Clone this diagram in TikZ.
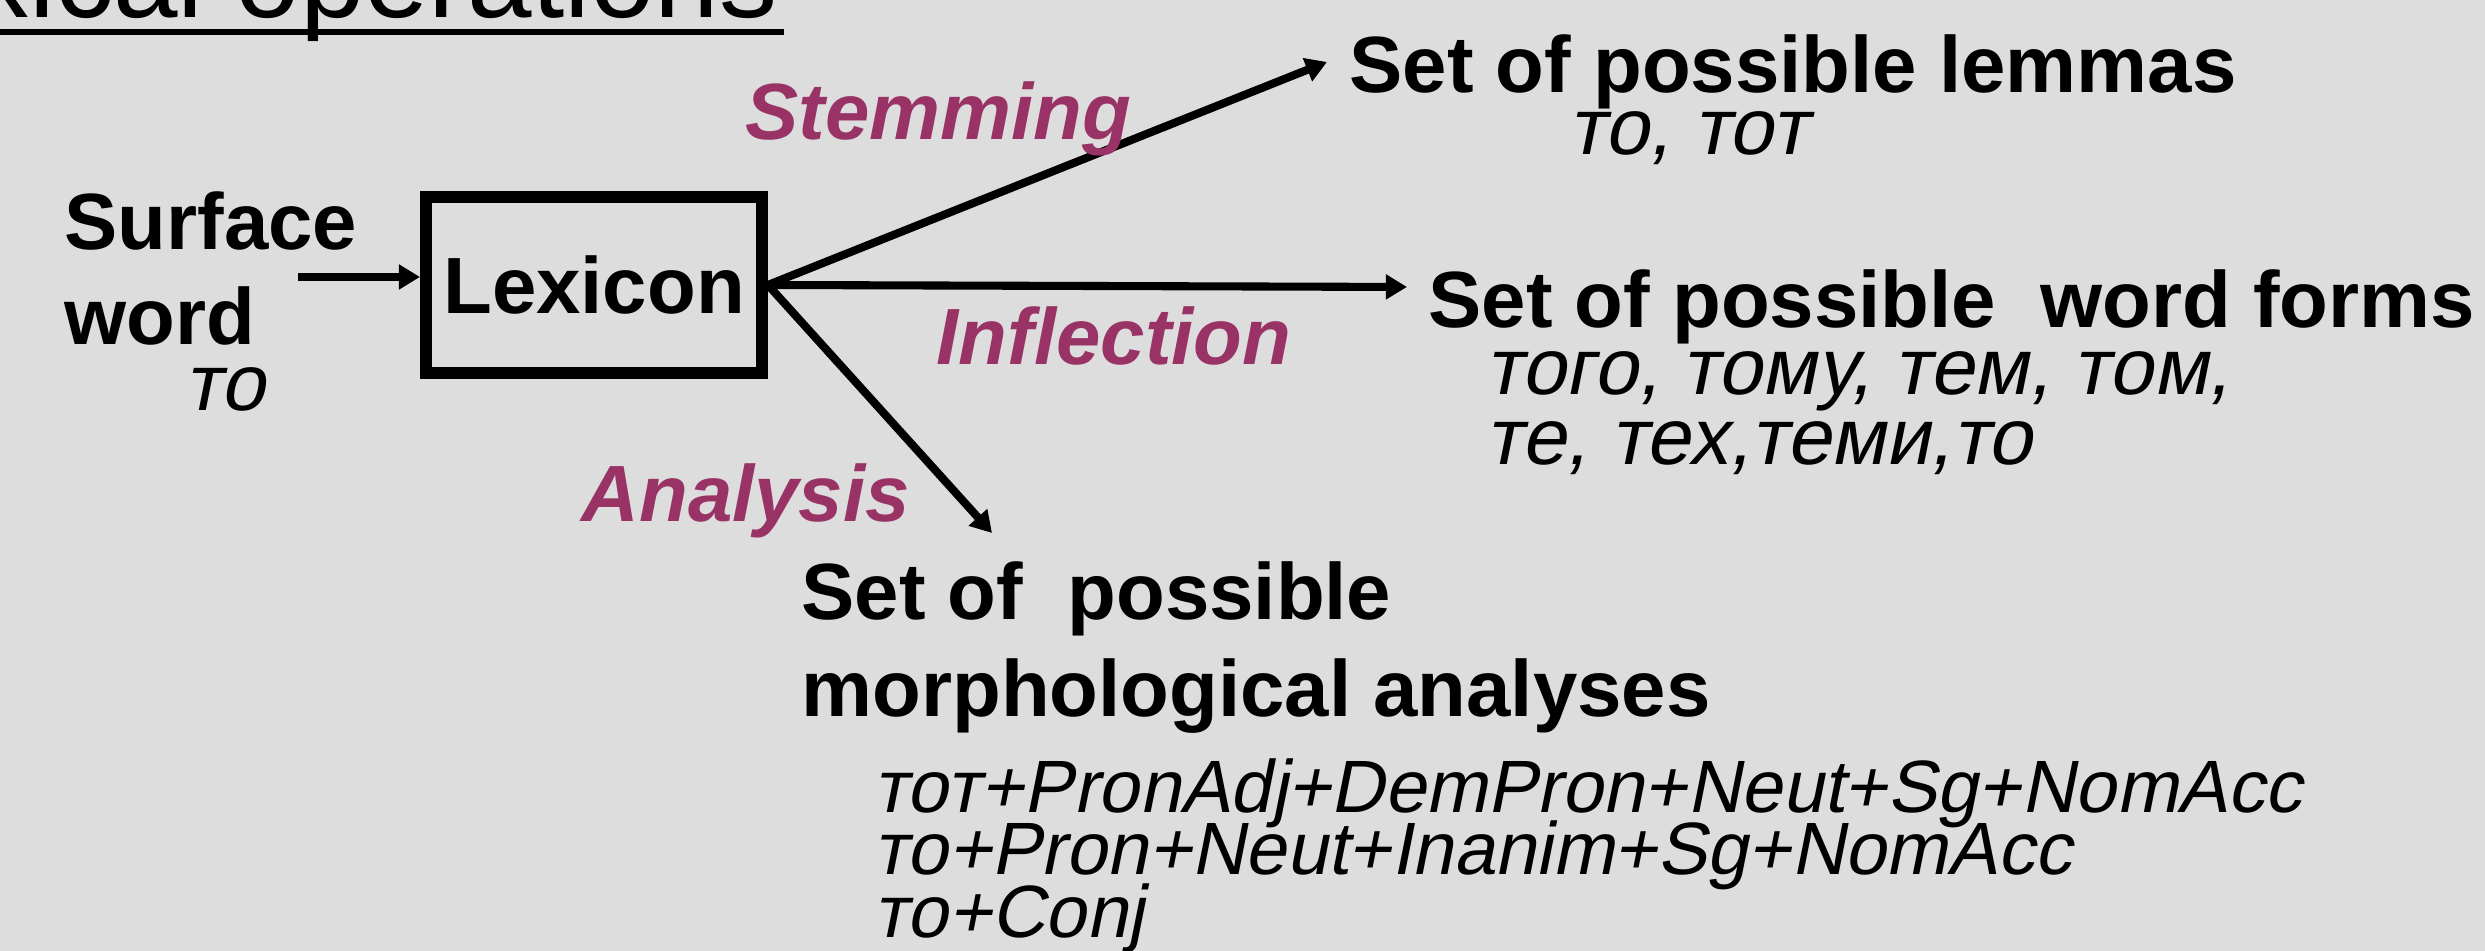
\documentclass[tikz,border=0pt]{standalone}
\usepackage{fontspec}
\setmainfont{Liberation Sans}
\newfontfamily\slantfont[FakeSlant=0.2]{Liberation Sans}
\usepackage{xcolor}
\usetikzlibrary{arrows.meta}

\definecolor{slidebg}{HTML}{DDDDDD}
\definecolor{opcolor}{HTML}{993366}
\newcommand{\bigfont}{\fontsize{22.7}{27}\selectfont}
\newcommand{\anfont}{\fontsize{21.1}{17.8}\selectfont}

\begin{document}
\begin{tikzpicture}[>={Triangle[length=6pt,width=6.8pt]},
    box/.style={draw, line width=3.4pt, minimum width=3.36cm, minimum height=1.76cm, font=\bigfont\bfseries},
    head/.style={anchor=base west, inner sep=0pt, font=\bigfont\bfseries},
    oper/.style={anchor=base west, inner sep=0pt, font=\bigfont\bfseries\itshape, text=opcolor},
    ex/.style={anchor=base west, inner sep=0pt, font=\bigfont\slantfont},
    arr/.style={->, line width=2.3pt}]
     \fill[slidebg] (0,0) rectangle (24.85,9.51);
     \useasboundingbox (0,0) rectangle (24.85,9.51);
     % title, cut at the left edge
     \node[anchor=base east, inner sep=0pt, font=\fontsize{33}{40}\selectfont] (title) at (7.78,9.33) {xical operations};
     \draw[line width=1.7pt] (0,9.19) -- (7.84,9.19);
     % input
     \node[head] (surf) at (0.64,7.01) {Surface};
     \node[head] (word) at (0.64,6.06) {word};
     \node[ex] (wordex) at (1.84,5.40) {то};
     \node[box] (lex) at (5.94,6.66) {Lexicon};
     \coordinate (in) at (2.98,6.74);
     \draw[arr] (in) -- (in -| lex.west);
     % operations
     \coordinate (stemend) at (13.27,8.89);
     \coordinate (inflend) at (14.07,6.64);
     \coordinate (analend) at (9.92,4.18);
     \draw[arr] (lex.east) -- (stemend);
     \draw[arr] (lex.east) -- (inflend);
     \draw[arr] (lex.east) -- (analend);
     \node[oper] (stem) at (7.45,8.11) {Stemming};
     \node[oper] (infl) at (9.36,5.86) {Inflection};
     \node[oper] (anal) at (5.81,4.29) {Analysis};
     % results
     \node[head] (lem) at (13.49,8.58) {Set of possible lemmas};
     \node[ex] (lemex) at (15.68,7.96) {то, тот};
     \node[head] (forms) at (14.28,6.23) {Set of possible\ \ word forms};
     \node[ex] (forms1) at (14.85,5.56) {того, тому, тем, том,};
     \node[ex] (forms2) at (14.85,4.86) {те, тех,теми,то};
     \node[head] (morph1) at (8.01,3.31) {Set of\ \ possible};
     \node[head] (morph2) at (8.01,2.34) {morphological analyses};
     \node[ex, font=\anfont\slantfont] (an1) at (8.73,1.38) {тот+PronAdj+DemPron+Neut+Sg+NomAcc};
     \node[ex, font=\anfont\slantfont] (an2) at (8.73,0.76) {то+Pron+Neut+Inanim+Sg+NomAcc};
     \node[ex, font=\anfont\slantfont] (an3) at (8.73,0.13) {то+Conj};
\end{tikzpicture}
\end{document}
